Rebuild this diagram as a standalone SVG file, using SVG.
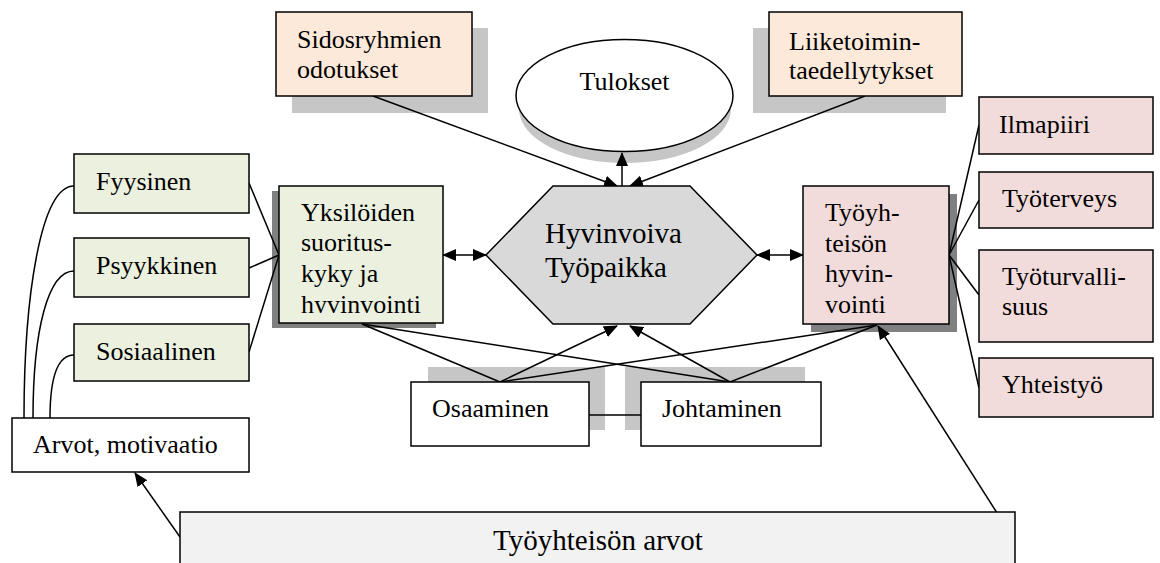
<svg xmlns="http://www.w3.org/2000/svg" width="1160" height="563" viewBox="0 0 1160 563">
<style>
text{font-family:"Liberation Serif","Times New Roman",serif;font-size:26px;fill:#000}
.box{stroke:#000;stroke-width:1.5}
.g{fill:#ebf1de}.p{fill:#fde9d9}.r{fill:#f2dcdb}.w{fill:#fff}
.sh1{fill:#c6c6c6}.sh2{fill:#808080}
.ln{stroke:#000;stroke-width:1.5;fill:none}
</style>
<defs>
<marker id="ah" markerUnits="userSpaceOnUse" markerWidth="14" markerHeight="12" refX="13" refY="6" orient="auto-start-reverse" viewBox="0 0 14 12">
<path d="M0,0 L14,6 L0,12 z" fill="#000"/>
</marker>
<clipPath id="cy"><rect x="279" y="186" width="164" height="127"/></clipPath>
</defs>

<g id="shadows">
<rect class="sh1" x="292" y="28" width="196" height="85"/>
<rect class="sh1" x="753" y="28" width="193" height="85"/>
<ellipse class="sh1" cx="625" cy="109" rx="106" ry="54"/>
<rect class="sh2" x="272" y="191" width="164" height="137"/>
<rect class="sh2" x="811" y="194" width="146" height="138"/>
<rect class="sh1" x="428" y="367" width="177" height="63"/>
<rect class="sh1" x="625" y="367" width="180" height="63"/>
</g>

<g id="connectors">
<path class="ln" d="M24,418 C24,300 40,186 74,186"/>
<path class="ln" d="M33,418 C33,330 48,271 74,271"/>
<path class="ln" d="M50,418 C50,380 56,355 74,355"/>
<line class="ln" x1="249" y1="183" x2="279" y2="255"/>
<line class="ln" x1="249" y1="268" x2="279" y2="255"/>
<line class="ln" x1="249" y1="352" x2="279" y2="255"/>
<line class="ln" x1="949" y1="255" x2="979" y2="125"/>
<line class="ln" x1="949" y1="255" x2="979" y2="200"/>
<line class="ln" x1="949" y1="255" x2="979" y2="295"/>
<line class="ln" x1="949" y1="255" x2="979" y2="388"/>
<line class="ln" x1="443" y1="255" x2="486" y2="255" marker-start="url(#ah)" marker-end="url(#ah)"/>
<line class="ln" x1="757" y1="255" x2="803" y2="255" marker-start="url(#ah)" marker-end="url(#ah)"/>
<line class="ln" x1="373" y1="96" x2="617" y2="186" marker-end="url(#ah)"/>
<line class="ln" x1="865" y1="96" x2="630" y2="186" marker-end="url(#ah)"/>
<line class="ln" x1="622" y1="186" x2="622" y2="153" marker-end="url(#ah)"/>
<line class="ln" x1="362" y1="324" x2="500" y2="382"/>
<line class="ln" x1="362" y1="324" x2="730" y2="382"/>
<line class="ln" x1="500" y1="382" x2="877" y2="325"/>
<line class="ln" x1="730" y1="382" x2="877" y2="325"/>
<line class="ln" x1="500" y1="382" x2="617" y2="326" marker-end="url(#ah)"/>
<line class="ln" x1="730" y1="382" x2="630" y2="326" marker-end="url(#ah)"/>
<line class="ln" x1="589" y1="415" x2="641" y2="415"/>
<line class="ln" x1="180" y1="537" x2="135" y2="473" marker-end="url(#ah)"/>
<line class="ln" x1="1013" y1="538" x2="878" y2="326" marker-end="url(#ah)"/>
</g>

<g id="sidosryhmien">
<rect class="box p" x="276" y="12" width="196" height="84"/>
<text x="297" y="48">Sidosryhmien</text>
<text x="297" y="78">odotukset</text>
</g>
<g id="tulokset">
<ellipse class="box w" cx="624.5" cy="95.5" rx="108.5" ry="56"/>
<text x="624.5" y="90" text-anchor="middle">Tulokset</text>
</g>
<g id="liiketoimin">
<rect class="box p" x="769" y="12" width="193" height="84"/>
<text x="789" y="50">Liiketoimin-</text>
<text x="789" y="79">taedellytykset</text>
</g>
<g id="fyysinen">
<rect class="box g" x="74" y="154" width="175" height="59"/>
<text x="96" y="190">Fyysinen</text>
</g>
<g id="psyykkinen">
<rect class="box g" x="74" y="238" width="175" height="59"/>
<text x="96" y="274">Psyykkinen</text>
</g>
<g id="sosiaalinen">
<rect class="box g" x="74" y="324" width="175" height="57"/>
<text x="96" y="360">Sosiaalinen</text>
</g>
<g id="arvot-motivaatio">
<rect class="box w" x="12" y="418" width="237" height="54"/>
<text x="33" y="453">Arvot, motivaatio</text>
</g>
<g id="yksiloiden">
<rect class="box g" x="279" y="186" width="164" height="137"/>
<g clip-path="url(#cy)">
<text x="301" y="221">Yksilöiden</text>
<text x="301" y="251">suoritus-</text>
<text x="301" y="282">kyky ja</text>
<text x="301" y="313">hyvinvointi</text>
</g>
</g>
<g id="hyvinvoiva-tyopaikka">
<polygon class="box" fill="#d9d9d9" points="553,186 690,186 757,255 690,324 553,324 486,255"/>
<text x="545" y="243" style="font-size:29px">Hyvinvoiva</text>
<text x="545" y="277" style="font-size:29px">Työpaikka</text>
</g>
<g id="tyoyhteison-hyvinvointi">
<rect class="box r" x="803" y="186" width="146" height="138"/>
<text x="825" y="221">Työyh-</text>
<text x="825" y="252">teisön</text>
<text x="825" y="282">hyvin-</text>
<text x="825" y="313">vointi</text>
</g>
<g id="ilmapiiri">
<rect class="box r" x="979" y="97" width="174" height="57"/>
<text x="999" y="133">Ilmapiiri</text>
</g>
<g id="tyoterveys">
<rect class="box r" x="979" y="172" width="174" height="56"/>
<text x="1002" y="207">Työterveys</text>
</g>
<g id="tyoturvallisuus">
<rect class="box r" x="979" y="250" width="174" height="92"/>
<text x="1002" y="285">Työturvalli-</text>
<text x="1002" y="315">suus</text>
</g>
<g id="yhteistyo">
<rect class="box r" x="979" y="358" width="174" height="59"/>
<text x="1002" y="393">Yhteistyö</text>
</g>
<g id="osaaminen">
<rect class="box w" x="411" y="382" width="178" height="64"/>
<text x="432" y="417">Osaaminen</text>
</g>
<g id="johtaminen">
<rect class="box w" x="641" y="382" width="180" height="64"/>
<text x="662" y="417">Johtaminen</text>
</g>
<g id="tyoyhteison-arvot">
<rect class="box" fill="#f2f2f2" x="180" y="512" width="835" height="60"/>
<text x="598" y="550" text-anchor="middle" style="font-size:29px">Työyhteisön arvot</text>
</g>
</svg>
